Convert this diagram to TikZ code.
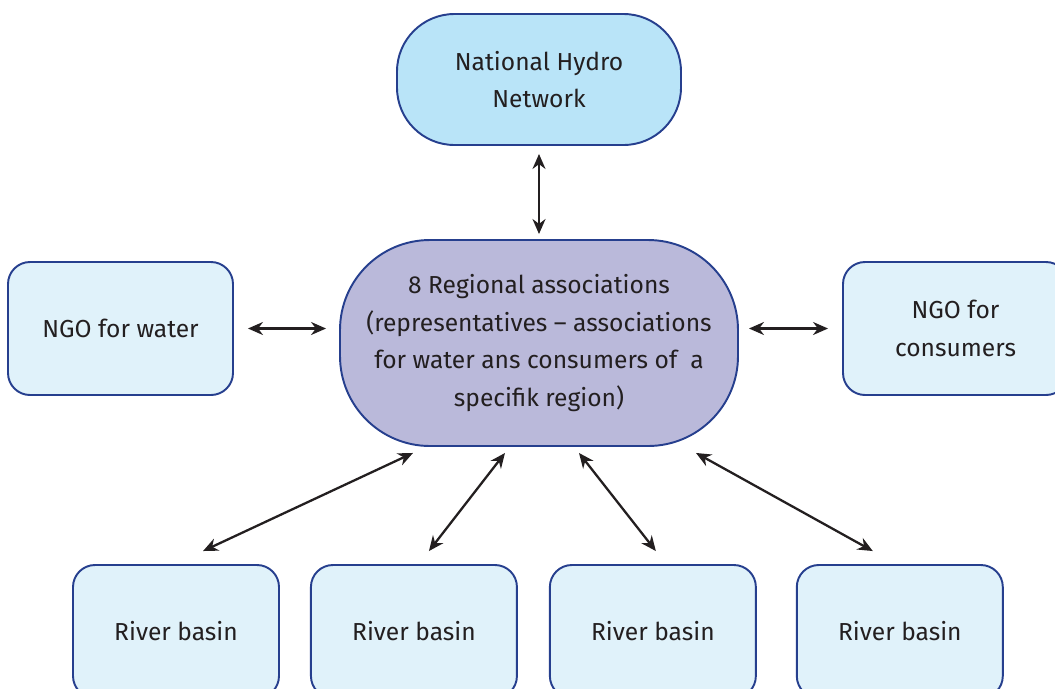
\documentclass[tikz,border=0pt]{standalone}
\usepackage{fontspec}
\setmainfont{Fira Sans}
\usepackage{tikz}
\usetikzlibrary{arrows.meta,positioning}
\definecolor{edge}{HTML}{263F8E}
\definecolor{hydrofill}{HTML}{B9E4F8}
\definecolor{regfill}{HTML}{BAB9DA}
\definecolor{boxfill}{HTML}{E0F2FA}
\definecolor{ink}{HTML}{231F20}

\begin{document}
\begin{tikzpicture}[
  font=\fontsize{14}{21.5}\selectfont,
  every node/.style={align=center,text=ink},
  pill/.style={draw=edge,line width=1.1pt,inner sep=0pt},
  small/.style={pill,fill=boxfill,rounded corners=0.44cm,minimum width=4.5cm,minimum height=2.66cm},
  link/.style={{Stealth[length=3mm,width=2.6mm]}-{Stealth[length=3mm,width=2.6mm]},draw=ink,line width=1.3pt},
]
\useasboundingbox (0,0) rectangle (21.1,-13.76);

\node[pill,fill=hydrofill,rounded corners=1.15cm,minimum width=5.68cm,minimum height=2.62cm] (hydro) at (10.78,-1.59)
  {National Hydro\\Network};
\node[pill,fill=regfill,rounded corners=1.8cm,minimum width=7.96cm,minimum height=4.12cm] (regional) at (10.78,-6.86)
  {8 Regional associations\\(representatives -- associations\\for water ans consumers of \ a\\specifik region)};

\node[small] (ngowater) at (2.41,-6.57) {NGO for water};
\node[small] (ngocons) at (19.11,-6.57) {NGO for\\consumers};

\node[small,minimum width=4.12cm] (basin1) at (3.52,-12.63) {River basin};
\node[small,minimum width=4.12cm,right=0.6cm of basin1] (basin2) {River basin};
\node[small,minimum width=4.12cm,right=0.62cm of basin2] (basin3) {River basin};
\node[small,minimum width=4.12cm,right=0.78cm of basin3] (basin4) {River basin};

\draw[link,shorten <=0.16cm,shorten >=0.1cm] (hydro.south) -- (regional.south |- regional.north);
\draw[link,shorten <=0.28cm,shorten >=0.26cm] (ngowater.east) -- (ngowater.east -| regional.west);
\draw[link,shorten <=0.2cm,shorten >=0.28cm] (ngocons.west -| regional.east) -- (ngocons.west);

\draw[link] ([xshift=-2.52cm,yshift=-0.12cm]regional.south) -- ([xshift=0.54cm,yshift=0.26cm]basin1.north);
\draw[link] ([xshift=-0.68cm,yshift=-0.12cm]regional.south) -- ([xshift=0.3cm,yshift=0.26cm]basin2.north);
\draw[link] ([xshift=0.8cm,yshift=-0.12cm]regional.south) -- ([xshift=0.06cm,yshift=0.26cm]basin3.north);
\draw[link] ([xshift=3.14cm,yshift=-0.12cm]regional.south) -- ([xshift=-0.54cm,yshift=0.26cm]basin4.north);
\end{tikzpicture}
\end{document}
